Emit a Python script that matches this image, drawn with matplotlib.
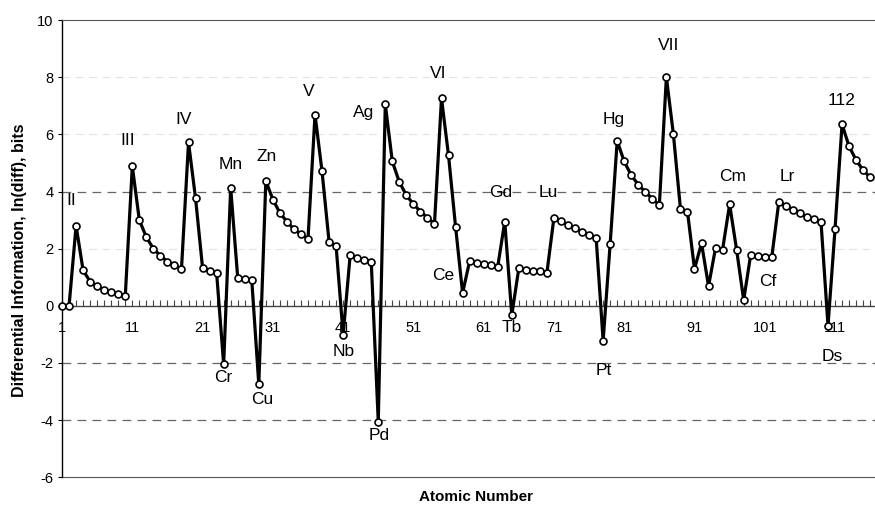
import matplotlib
matplotlib.use("Agg")
import matplotlib.pyplot as plt
from matplotlib.ticker import MultipleLocator, FixedLocator

plt.rcParams['font.family'] = ['Liberation Sans', 'DejaVu Sans']
plt.rcParams['axes.unicode_minus'] = False

# ---- data ----
atomic_number = list(range(1, 117))
diff_info = [
    0.00, 0.00, 2.80, 1.24, 0.85, 0.68, 0.56, 0.47, 0.43, 0.35,      # 1-10
    4.88, 3.00, 2.40, 2.00, 1.75, 1.55, 1.42, 1.30, 5.72, 3.76,      # 11-20
    1.32, 1.22, 1.14, -2.05, 4.12, 0.98, 0.95, 0.90, -2.75, 4.37,    # 21-30
    3.72, 3.25, 2.95, 2.68, 2.50, 2.34, 6.69, 4.70, 2.24, 2.10,      # 31-40
    -1.01, 1.77, 1.67, 1.61, 1.55, -4.05, 7.05, 5.05, 4.33, 3.87,    # 41-50
    3.56, 3.30, 3.08, 2.87, 7.26, 5.26, 2.77, 0.45, 1.56, 1.50,      # 51-60
    1.46, 1.42, 1.37, 2.95, -0.32, 1.31, 1.25, 1.21, 1.21, 1.16,     # 61-70
    3.08, 2.96, 2.82, 2.72, 2.60, 2.48, 2.39, -1.22, 2.17, 5.77,     # 71-80
    5.05, 4.57, 4.24, 3.98, 3.75, 3.52, 8.00, 6.00, 3.40, 3.30,      # 81-90
    1.29, 2.19, 0.69, 2.03, 1.97, 3.55, 1.95, 0.20, 1.79, 1.74,      # 91-100
    1.71, 1.71, 3.63, 3.51, 3.37, 3.25, 3.10, 3.03, 2.95, -0.70,     # 101-110
    2.69, 6.35, 5.58, 5.10, 4.74, 4.50,                              # 111-116
]

label_texts = ['II', 'III', 'IV', 'Mn', 'Zn', 'V', 'Ag', 'VI', 'Gd', 'Lu',
               'Hg', 'VII', 'Cm', 'Lr', '112',
               'Cr', 'Cu', 'Nb', 'Pd', 'Ce', 'Tb', 'Pt', 'Cf', 'Ds']
label_z = [3, 11, 19, 25, 30, 37, 47, 55, 64, 71,
           80, 87, 96, 103, 112,
           24, 29, 41, 46, 58, 65, 78, 98, 110]
# label offsets from their point, in pixels (x right, y up)
label_dx = [-5, -5, -5, 0, 1, -6, -22, -3, -4, -6,
            -3, 2, 3, 9, 0,
            0, 3, 1, 1, -19, 0, 1, 24, 4]
label_dy = [25, 26, 23, 24, 24, 23, -8, 25, 29, 25,
            21, 32, 28, 26, 24,
            -13, -15, -17, -14, 17, -13, -30, 19, -31]

x_ticks = list(range(1, 117, 10))
y_ticks = [-6, -4, -2, 0, 2, 4, 6, 8, 10]
grid_dark = [-4, -2, 4]
grid_light = [2, 6, 8]

# ---- figure ----
fig = plt.figure(figsize=(8.75, 5.08), dpi=100)
ax = fig.add_axes([0.0709, 0.0604, 0.930, 0.9002])
ax.set_xlim(1, 116.8)
ax.set_ylim(-6, 10)

for g in grid_dark:
    ax.axhline(g, color='#666666', lw=0.9, ls=(0, (7, 5)), zorder=1)
for g in grid_light:
    ax.axhline(g, color='#e2e2e2', lw=0.8, ls=(0, (7, 5)), zorder=1)

ax.plot(atomic_number, diff_info, color='black', lw=2.3, marker='o',
        markersize=5, markerfacecolor='white', markeredgecolor='black',
        markeredgewidth=1.2, zorder=3, clip_on=False)

for t, z, dx, dy in zip(label_texts, label_z, label_dx, label_dy):
    ax.annotate(t, (z, diff_info[z - 1]), xytext=(dx, dy),
                textcoords='offset pixels', ha='center', va='center',
                fontsize=12.5, zorder=4)

# spines
ax.spines['right'].set_visible(False)
ax.spines['top'].set_color('#555555')
ax.spines['top'].set_linewidth(0.8)
ax.spines['left'].set_color('black')
ax.spines['left'].set_linewidth(1.0)
ax.spines['bottom'].set_position(('data', 0))
ax.spines['bottom'].set_color('#444444')
ax.spines['bottom'].set_linewidth(1.0)
ax.axhline(-6, color='#555555', lw=0.8, clip_on=False, zorder=2)

ax.xaxis.set_major_locator(FixedLocator(x_ticks))
ax.xaxis.set_minor_locator(MultipleLocator(1))
ax.tick_params(axis='x', which='both', direction='in', length=4, width=0.8,
               color='#444444', labelsize=10.5, pad=11)
ax.set_yticks(y_ticks)
ax.tick_params(axis='y', direction='out', length=3, width=0.8,
               labelsize=10.5, pad=3)

ax.set_ylabel('Differential Information, ln(diff), bits', fontsize=11.5,
              fontweight='bold')
ax.yaxis.set_label_coords(-0.043, 0.475)
ax.set_xlabel('Atomic Number', fontsize=11, fontweight='bold')
ax.xaxis.set_label_coords(0.509, -0.027)

fig.savefig('out.png', dpi=100)
